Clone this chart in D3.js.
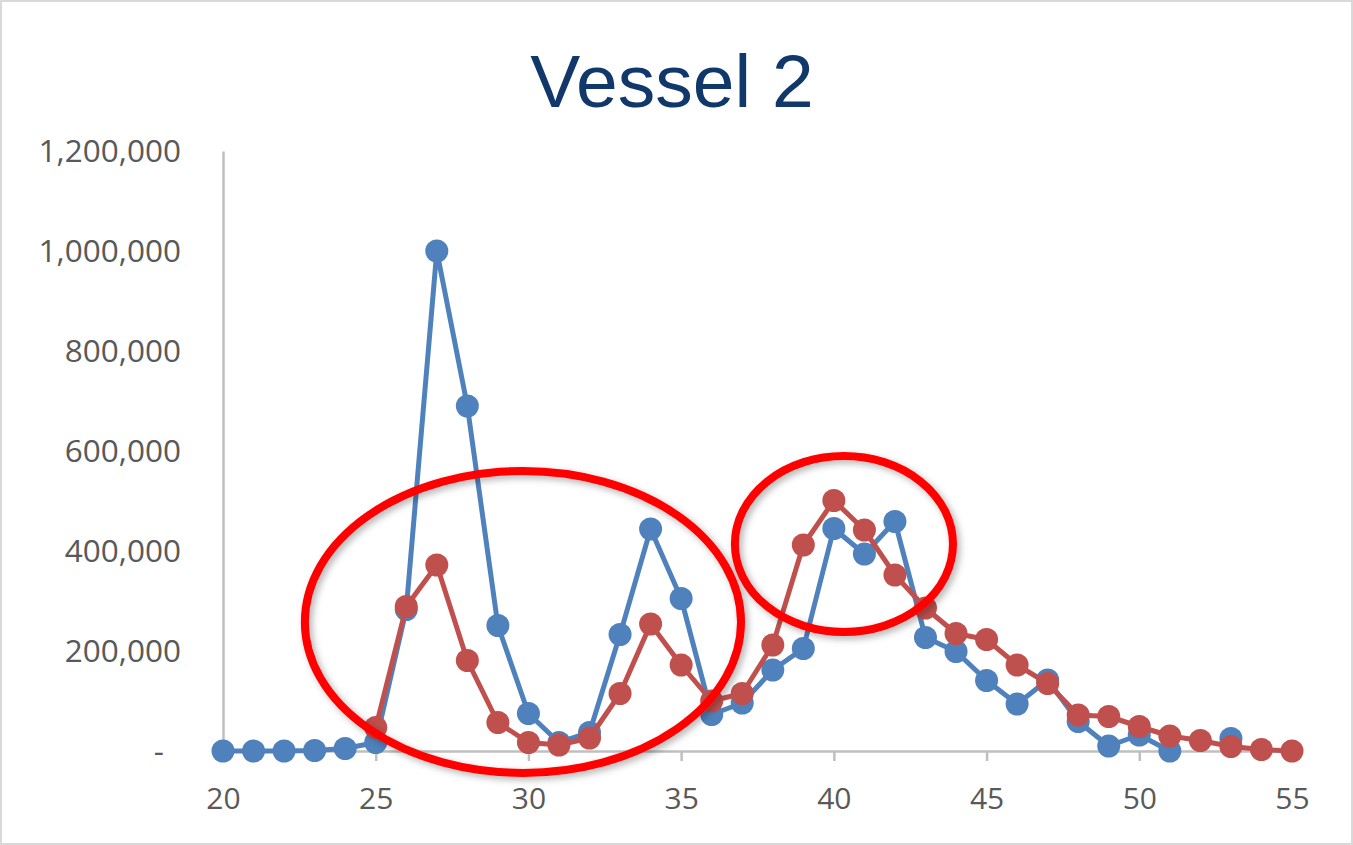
<!DOCTYPE html>
<html>
<head>
<meta charset="utf-8">
<script src="https://cdn.jsdelivr.net/npm/d3@7"></script>
<style>
  html, body { margin: 0; padding: 0; background: #fff; }
  svg { display: block; }
</style>
</head>
<body>
<svg id="chart" width="1353" height="845"></svg>
<script>
// Cycle numbers on the x axis
const cycles = d3.range(20, 56);

// Series values per cycle (null = no reading)
const seriesBlue = [
  0, 0, 0, 1000, 5000, 17000, 283000, 1000000, 690000, 251000,
  75000, 17000, 37000, 233000, 444000, 305000, 73000, 96000, 162000, 205000,
  445000, 394000, 459000, 227000, 199000, 141000, 94000, 142000, 59000, 10000,
  32000, 0, null, 25000, null, null
];
const seriesRed = [
  null, null, null, null, null, 47000, 289000, 372000, 181000, 57000,
  17000, 12000, 26000, 115000, 254000, 172000, 100000, 115000, 212000, 412000,
  501000, 442000, 352000, 286000, 235000, 223000, 172000, 135000, 72000, 69000,
  49000, 30000, 21000, 9000, 3000, 0
];

// Tick values
const xTicks = [20, 25, 30, 35, 40, 45, 50, 55];
const yTicks = [0, 200000, 400000, 600000, 800000, 1000000, 1200000];

// Highlight ellipses, in data units (cycle, value)
const highlightCx = [29.82, 40.33];
const highlightCy = [258000, 414000];
const highlightRx = [7.14, 3.57];
const highlightRy = [302000, 176000];

const W = 1353, H = 845;
const plotLeft = 223, plotRight = 1292, plotTop = 151, plotBottom = 751;

const svg = d3.select("#chart");

// Outer frame
svg.append("rect")
  .attr("x", 1).attr("y", 1).attr("width", W - 2).attr("height", H - 2)
  .attr("fill", "#fff").attr("stroke", "#D9D9D9").attr("stroke-width", 2);

const defs = svg.append("defs");
const shadow = defs.append("filter").attr("id", "shadow")
  .attr("x", "-10%").attr("y", "-10%").attr("width", "120%").attr("height", "120%");
shadow.append("feDropShadow")
  .attr("dx", 3).attr("dy", 3).attr("stdDeviation", 3.5)
  .attr("flood-color", "#000").attr("flood-opacity", 0.3);

const x = d3.scaleLinear().domain([20, 55]).range([plotLeft, plotRight]);
const y = d3.scaleLinear().domain([0, 1200000]).range([plotBottom, plotTop]);

// Title
svg.append("text")
  .attr("x", 672).attr("y", 107)
  .attr("text-anchor", "middle")
  .attr("font-family", "'Liberation Sans', Arial, sans-serif")
  .attr("font-size", 75)
  .attr("fill", "#10386A")
  .text("Vessel 2");

const axisColor = "#BFBFBF";
const labelColor = "#595959";
const labelFont = "'Open Sans', sans-serif";

// Y axis
const yAxis = svg.append("g")
  .attr("transform", `translate(${plotLeft},0)`)
  .call(d3.axisLeft(y).tickValues(yTicks).tickSize(0).tickPadding(42)
    .tickFormat(d => d === 0 ? "-" : d3.format(",")(d)));
yAxis.select(".domain").attr("stroke", axisColor).attr("stroke-width", 2.5);
yAxis.selectAll("text")
  .attr("font-family", labelFont).attr("font-size", 31.5).attr("fill", labelColor)
  .attr("dx", d => d === 0 ? -17 : 0);

// X axis
const xAxis = svg.append("g")
  .attr("transform", `translate(0,${plotBottom})`)
  .call(d3.axisBottom(x).tickValues(xTicks).tickSizeInner(10).tickSizeOuter(0).tickPadding(27)
    .tickFormat(d3.format("d")));
xAxis.select(".domain").attr("stroke", axisColor).attr("stroke-width", 2.5);
xAxis.selectAll(".tick line").attr("stroke", axisColor).attr("stroke-width", 2.5);
xAxis.selectAll("text")
  .attr("font-family", labelFont).attr("font-size", 30).attr("fill", labelColor);

// Series lines and markers
function drawSeries(values, color) {
  const pts = cycles.map((c, i) => ({ c, v: values[i] }));
  const line = d3.line()
    .defined(d => d.v !== null)
    .x(d => x(d.c)).y(d => y(d.v));
  svg.append("path")
    .datum(pts)
    .attr("fill", "none")
    .attr("stroke", color)
    .attr("stroke-width", 5)
    .attr("stroke-linejoin", "round")
    .attr("d", line);
  svg.append("g").selectAll("circle")
    .data(pts.filter(d => d.v !== null))
    .join("circle")
    .attr("cx", d => x(d.c)).attr("cy", d => y(d.v))
    .attr("r", 11.5)
    .attr("fill", color);
}
drawSeries(seriesBlue, "#4F81BD");
drawSeries(seriesRed, "#C0504D");

// Highlight ellipses
svg.append("g").attr("filter", "url(#shadow)")
  .selectAll("ellipse")
  .data(highlightCx.map((c, i) => i))
  .join("ellipse")
  .attr("cx", i => x(highlightCx[i]))
  .attr("cy", i => y(highlightCy[i]))
  .attr("rx", i => x(20 + highlightRx[i]) - x(20))
  .attr("ry", i => y(0) - y(highlightRy[i]))
  .attr("fill", "none")
  .attr("stroke", "#FF0000")
  .attr("stroke-width", 8);
</script>
</body>
</html>
